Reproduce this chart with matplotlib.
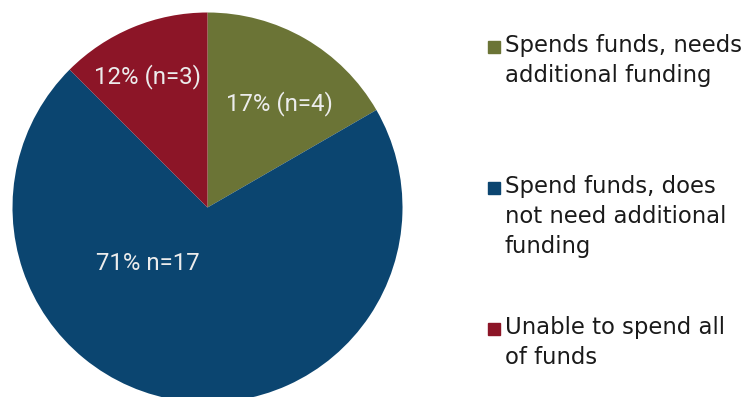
import matplotlib.pyplot as plt
import numpy as np

categories = ["Spends funds, needs\nadditional funding",
              "Spend funds, does\nnot need additional\nfunding",
              "Unable to spend all\nof funds"]
counts = [4, 17, 3]
slice_labels = ["17% (n=4)", "71% n=17", "12% (n=3)"]
colors = ["#6b7436", "#0b4570", "#8c1527"]

fig = plt.figure(figsize=(7.44, 3.97), dpi=100)
W, H = 744, 397
cx, cy, r = 207.5, 207.5, 195
ax = fig.add_axes([(cx - r) / W, (H - cy - r) / H, 2 * r / W, 2 * r / H])
wedges, _ = ax.pie(counts, colors=colors, startangle=90, counterclock=False,
                   radius=1, wedgeprops=dict(linewidth=0))
ax.set_xlim(-1, 1)
ax.set_ylim(-1, 1)
ax.set_aspect("equal")
ax.axis("off")

# label spots as (angle in degrees, fraction of radius)
label_pos = [(55.3, 0.65), (-137.2, 0.42), (114.7, 0.74)]
for txt, (ang, dist) in zip(slice_labels, label_pos):
    a = np.radians(ang)
    ax.text(dist * np.cos(a), dist * np.sin(a), txt, ha="center", va="center",
            color="#ececec", fontsize=17.3, family="Roboto", fontweight="normal")

# legend drawn by hand on the right
first_lines = [47, 188, 329]
for cat, col, y in zip(categories, colors, first_lines):
    fig.patches.append(plt.Rectangle((488 / W, 1 - (y + 6) / H), 12 / W, 12 / H,
                                     transform=fig.transFigure, color=col))
    fig.text(505 / W, 1 - (y - 13) / H, cat, ha="left", va="top",
             fontsize=16.4, color="#1a1a1a", linespacing=1.38)

plt.savefig("out.png", dpi=100)
plt.close()
